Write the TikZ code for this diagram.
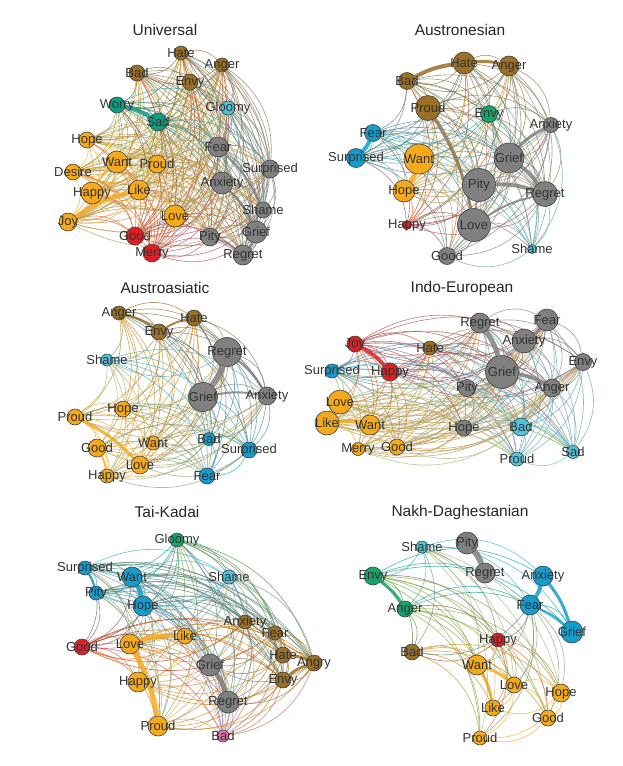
\documentclass[tikz,border=0pt]{standalone}
\usepackage{fontspec}
\setmainfont{Liberation Sans}
\usetikzlibrary{backgrounds}
\pgfdeclarelayer{ties}
\pgfsetlayers{ties,main}

\definecolor{brn}{RGB}{154,111,38}
\definecolor{org}{RGB}{244,170,28}
\definecolor{gry}{RGB}{128,128,128}
\definecolor{teal}{RGB}{16,156,130}
\definecolor{lbl}{RGB}{82,196,218}
\definecolor{blu}{RGB}{20,156,204}
\definecolor{grn}{RGB}{20,164,108}
\definecolor{red}{RGB}{220,32,38}
\definecolor{pnk}{RGB}{232,108,168}

% circles, then their words on top
\newcommand{\emonodes}[2]{%
  \foreach \n/\x/\y/\d/\c in #2
    \node[emo, minimum size=\d, fill=\c] (#1\n) at (\x,\y) {};
  \foreach \n/\x/\y/\d/\c in #2
    \node[word] (#1\n-t) at (#1\n) {\n};
}
% thin curved ties between the pairs of one panel
\newcommand{\emoties}[3]{%
  \begin{pgfonlayer}{ties}
  \foreach \a/\xa/\ya/\da/\ca [count=\i] in #2 {
    \foreach \b/\xb/\yb/\db/\cb [count=\j] in #2 {
      \ifnum\j>\i
        \pgfmathtruncatemacro\keep{mod(\i*5+\j*3,#3)}
        \ifnum\keep>0
          \draw[tie, draw=\ca!50!\cb] (#1\a) to (#1\b);
        \fi
      \fi
    }
  }
  \end{pgfonlayer}
}

\def\Unodes{Hate/181/53/14/brn, Anger/222/65/14/brn, Bad/137/73/16/brn,
  Envy/190/82/16/brn, Worry/117/105/16/teal, Gloomy/228/108/14/lbl,
  Sad/158/122/18/teal, Hope/87/140/16/org, Fear/218/147/20/gry,
  Want/117/162/22/org, Proud/157/164/18/org, Surprised/270/169/18/gry,
  Desire/73/172/16/org, Anxiety/222/183/22/gry, Happy/92/193/22/org,
  Like/139/190/20/org, Shame/263/210/16/gry, Joy/68/222/18/org,
  Love/175/216/22/org, Good/135/236/18/red, Pity/210/237/18/gry,
  Grief/256/232/22/gry, Merry/152/253/18/red, Regret/243/255/20/gry}
\def\Anodes{Hate/464/63/22/brn, Anger/509/66/20/brn, Bad/407/81/17/brn,
  Proud/428/108/25/brn, Envy/489/114/17/grn, Anxiety/551/125/15/gry,
  Fear/373/133/17/blu, Surprised/356/158/19/blu, Want/419/159/30/org,
  Grief/509/158/30/gry, Pity/479/185/33/gry, Hope/404/191/22/org,
  Regret/545/194/25/gry, Happy/407/225/9/red, Love/474/225/33/gry,
  Shame/532/249/9/lbl, Good/447/256/17/gry}
\def\Snodes{Anger/119/313/14/brn, Hate/194/318/16/brn, Envy/159/332/16/brn,
  Regret/227/352/29/gry, Shame/107/360/12/lbl, Grief/203/397/29/gry,
  Anxiety/267/396/18/gry, Proud/75/417/16/org, Hope/123/409/16/org,
  Bad/209/439/13/blu, Want/153/443/14/org, Good/97/448/18/org,
  Surprised/249/450/16/blu, Love/140/465/18/org, Happy/107/476/14/org,
  Fear/207/476/16/blu}
\def\Inodes{Regret/480/323/20/gry, Fear/547/320/22/gry, Joy/355/344/16/red,
  Hate/430/348/14/brn, Anxiety/524/341/24/gry, Envy/583/362/17/gry,
  Surprised/332/371/14/blu, Happy/390/372/18/red, Grief/502/372/33/gry,
  Pity/467/388/17/gry, Anger/552/388/18/gry, Love/340/402/24/org,
  Like/327/423/24/org, Want/370/425/20/org, Hope/464/428/16/gry,
  Bad/521/427/18/lbl, Merry/358/449/13/org, Good/397/447/16/org,
  Sad/573/452/13/lbl, Proud/517/459/14/lbl}
\def\Tnodes{Gloomy/177/540/14/grn, Surprised/85/568/14/blu, Want/132/577/20/blu,
  Shame/229/577/14/lbl, Pity/96/593/14/blu, Hope/143/606/20/blu,
  Anxiety/245/622/14/brn, Like/185/636/16/org, Fear/275/633/14/brn,
  Good/82/647/16/red, Love/130/644/20/org, Hate/283/655/16/brn,
  Angry/314/663/16/brn, Grief/210/665/22/gry, Envy/283/680/16/brn,
  Happy/138/682/20/org, Regret/228/702/22/gry, Proud/158/726/20/org,
  Bad/223/736/12/pnk}
\def\Nnodes{Shame/422/547/12/lbl, Envy/373/576/18/grn, Anxiety/543/576/20/blu,
  Anger/405/609/16/grn, Fear/530/605/20/blu, Grief/572/632/22/blu,
  Happy/498/640/14/red, Bad/412/652/16/brn, Want/477/665/20/org,
  Love/514/685/16/org, Hope/561/693/18/org, Like/493/708/16/org,
  Good/548/718/16/org, Proud/480/738/14/org}

\begin{document}
\begin{tikzpicture}[x=1pt, y=-1pt,
    emo/.style={circle, draw=black!75, line width=0.6pt, inner sep=0pt},
    word/.style={font=\fontsize{13}{13}\selectfont, text=black!80, inner sep=0pt},
    head/.style={font=\fontsize{15.5}{16}\selectfont, text=black!85},
    tie/.style={line width=0.65pt, draw opacity=0.72, bend left=30},
    fat/.style={line width=#1, draw opacity=0.85, bend left=10}]
  \useasboundingbox (0,0) rectangle (622,766);

  % titles
  \node[head] (Uhead) at (165,30) {Universal};
  \node[head] (Ahead) at (460,30) {Austronesian};
  \node[head] (Shead) at (165,288) {Austroasiatic};
  \node[head] (Ihead) at (462,288) {Indo-European};
  \node[head] (Thead) at (167,512) {Tai-Kadai};
  \node[head] (Nhead) at (460,512) {Nakh-Daghestanian};

  % Universal
  \emonodes{U}{\Unodes}
  \emoties{U}{\Unodes}{1000}
  \begin{pgfonlayer}{ties}
    \draw[fat=4pt, teal] (UWorry) to (USad);
    \draw[fat=4pt, org] (UJoy) to (ULike);
    \draw[fat=2pt, org] (UHappy) to (UWant);
    \draw[fat=3pt, gry] (UGrief) to (URegret);
    \draw[fat=2.5pt, gry] (UAnxiety) to (UGrief);
    \draw[fat=2pt, gry] (UPity) to (URegret);
    \draw[fat=2pt, gry] (UFear) to (UShame);
  \end{pgfonlayer}

  % Austronesian
  \emonodes{A}{\Anodes}
  \emoties{A}{\Anodes}{1000}
  \begin{pgfonlayer}{ties}
    \draw[fat=4pt, brn] (ABad) to (AHate);
    \draw[fat=3pt, brn] (AHate) to (AAnger);
    \draw[fat=4pt, blu] (AFear) to (ASurprised);
    \draw[fat=5pt, org] (AWant) to (AHope);
    \draw[fat=3pt, brn!60!gry] (AProud) to (ALove);
    \draw[fat=3pt, gry] (AGrief) to (AAnxiety);
    \draw[fat=3.5pt, gry] (AGrief) to (ARegret);
    \draw[fat=4pt, gry] (APity) to (ARegret);
    \draw[fat=2pt, gry] (ALove) to (ARegret);
  \end{pgfonlayer}

  % Austroasiatic
  \emonodes{S}{\Snodes}
  \emoties{S}{\Snodes}{1000}
  \begin{pgfonlayer}{ties}
    \draw[fat=6pt, gry] (SRegret) to (SGrief);
    \draw[fat=2.5pt, gry] (SRegret) to (SAnxiety);
    \draw[fat=2pt, gry] (SGrief) to (SAnxiety);
    \draw[fat=2.5pt, brn] (SAnger) to (SEnvy);
    \draw[fat=2pt, brn] (SEnvy) to (SHate);
    \draw[fat=3pt, org] (SProud) to (SLove);
    \draw[fat=2pt, org] (SGood) to (SHappy);
  \end{pgfonlayer}

  % Indo-European
  \emonodes{I}{\Inodes}
  \emoties{I}{\Inodes}{1000}
  \begin{pgfonlayer}{ties}
    \draw[fat=4pt, red] (IJoy) to (IHappy);
    \draw[fat=5pt, gry] (IRegret) to (IGrief);
    \draw[fat=4pt, gry] (IGrief) to (IAnger);
    \draw[fat=3pt, gry] (IFear) to (IAnxiety);
    \draw[fat=3pt, org] (ILove) to (ILike);
    \draw[fat=4pt, org] (ILike) to (IWant);
  \end{pgfonlayer}

  % Tai-Kadai
  \emonodes{T}{\Tnodes}
  \emoties{T}{\Tnodes}{1000}
  \begin{pgfonlayer}{ties}
    \draw[fat=5pt, blu] (TWant) to (THope);
    \draw[fat=5pt, org] (TLove) to (TLike);
    \draw[fat=5pt, org] (TLove) to (TProud);
    \draw[fat=5pt, gry] (TGrief) to (TRegret);
    \draw[fat=3pt, brn] (THate) to (TAngry);
    \draw[fat=3pt, brn] (TEnvy) to (TAngry);
    \draw[fat=2pt, blu] (TSurprised) to (TPity);
  \end{pgfonlayer}

  % Nakh-Daghestanian
  \emonodes{N}{\Nnodes}
  \node[emo, minimum size=22, fill=gry] (NPity) at (467,543) {};
  \node[emo, minimum size=20, fill=gry] (NRegret) at (485,573) {};
  \node[word] (NPity-t) at (NPity) {Pity};
  \node[word] (NRegret-t) at (NRegret) {Regret};
  \emoties{N}{\Nnodes}{3}
  \begin{pgfonlayer}{ties}
    \draw[fat=6pt, gry] (NPity) to (NRegret);
    \draw[fat=4pt, blu] (NAnxiety) to (NFear);
    \draw[fat=3pt, blu] (NAnxiety) to (NGrief);
    \draw[fat=2pt, blu] (NFear) to (NGrief);
    \draw[fat=3pt, grn] (NEnvy) to (NAnger);
    \draw[fat=3pt, org] (NWant) to (NLove);
    \draw[fat=3pt, org] (NWant) to (NLike);
  \end{pgfonlayer}
\end{tikzpicture}
\end{document}
